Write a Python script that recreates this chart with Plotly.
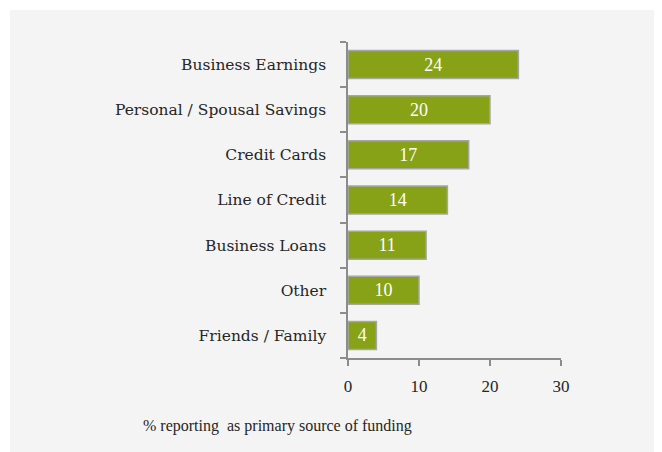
"""Primary source of funding bar chart."""

import plotly.graph_objects as go

categories = [
    "Business Earnings",
    "Personal / Spousal Savings",
    "Credit Cards",
    "Line of Credit",
    "Business Loans",
    "Other",
    "Friends / Family",
]
values = [24, 20, 17, 14, 11, 10, 4]
x_ticks = [0, 10, 20, 30]
x_title = "% reporting  as primary source of funding"

FONT = "Liberation Serif"
LABEL_FONT = "DejaVu Serif"
AXIS_GRAY = "#8c8c8c"

fig = go.Figure()
fig.add_trace(
    go.Bar(
        y=categories,
        x=values,
        orientation="h",
        text=values,
        textposition="inside",
        insidetextanchor="middle",
        textfont=dict(family=FONT, size=18, color="white"),
        marker=dict(color="#87a216", line=dict(color="#a6a6a6", width=1.5)),
        width=0.62,
    )
)

# light grey panel behind the chart
fig.add_shape(
    type="rect",
    xref="paper",
    yref="paper",
    x0=-1.587,
    x1=1.6,
    y0=-0.4,
    y1=1.101,
    fillcolor="#f4f4f4",
    line_width=0,
    layer="below",
)

fig.add_annotation(
    text=x_title,
    xref="paper",
    yref="paper",
    x=-0.329,
    y=-0.215,
    xanchor="center",
    yanchor="middle",
    showarrow=False,
    font=dict(family=FONT, size=16, color="#262626"),
)

# page body has an 8px margin, so the figure is sized to fit the window
fig.update_layout(
    width=654,
    height=444,
    margin=dict(l=340, r=101, t=34, b=94),
    paper_bgcolor="white",
    plot_bgcolor="rgba(0,0,0,0)",
    showlegend=False,
    font=dict(family=FONT, size=16, color="#262626"),
)
fig.update_xaxes(
    range=[0, 30],
    tickvals=x_ticks,
    showgrid=False,
    zeroline=False,
    showline=True,
    linecolor=AXIS_GRAY,
    linewidth=1.5,
    ticks="outside",
    ticklen=6,
    tickcolor=AXIS_GRAY,
    tickwidth=1.5,
    tickfont=dict(size=17),
    ticklabelstandoff=6,
)
fig.update_yaxes(
    categoryorder="array",
    categoryarray=categories[::-1],
    showgrid=False,
    showline=True,
    linecolor=AXIS_GRAY,
    linewidth=1.5,
    ticks="outside",
    tickson="boundaries",
    ticklen=6,
    tickcolor=AXIS_GRAY,
    tickwidth=1.5,
    tickfont=dict(family=LABEL_FONT, size=15.5),
    ticklabelstandoff=17,
)

fig.write_html("out.html")
